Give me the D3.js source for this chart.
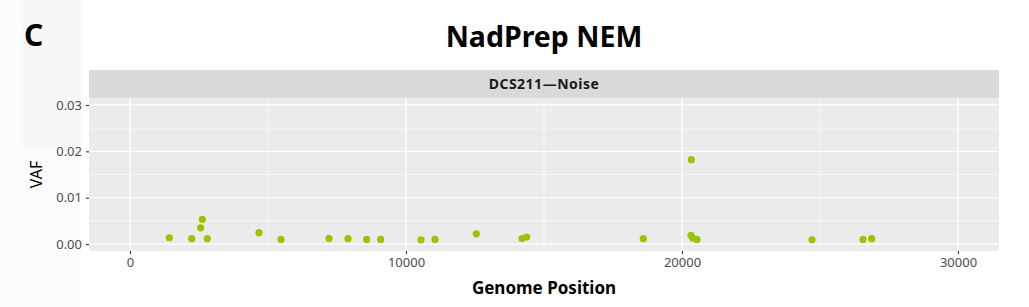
<!DOCTYPE html>
<html>
<head>
<meta charset="utf-8">
<script src="https://cdn.jsdelivr.net/npm/d3@7"></script>
<style>
  body { margin: 0; background: #fff; }
  svg { display: block; font-family: "Noto Sans", sans-serif; }
</style>
</head>
<body>
<div class="container"></div>
<script>
// genome position and VAF
const positions = [1425, 2235, 2620, 2560, 2800, 4674, 5471, 7210, 7899, 8575, 9082,
  10543, 11051, 12547, 14203, 14372, 18598, 20338, 20326, 20387, 20543, 24710, 26558, 26872];
const vafs = [0.00136, 0.00115, 0.0053, 0.0035, 0.00115, 0.00245, 0.001, 0.00122, 0.00115, 0.001, 0.001,
  0.00093, 0.001, 0.0022, 0.0012, 0.0015, 0.00115, 0.0182, 0.0019, 0.0013, 0.001, 0.00093, 0.001, 0.00115];
const xTicks = [0, 10000, 20000, 30000];
const xMinor = [5000, 15000, 25000];
const yTicks = [0, 0.01, 0.02, 0.03];
const yMinor = [0.005, 0.015, 0.025];

const width = 1029, height = 307;
const panel = { left: 89, right: 999, top: 98, bottom: 251 };

let svg = d3.select(".container")
  .append("svg")
  .attr("width", width)
  .attr("height", height);

// faint left band
svg.append("rect").attr("x", 0).attr("y", 0).attr("width", 81).attr("height", height).attr("fill", "#fbfbfb");
svg.append("rect").attr("x", 22).attr("y", 0).attr("width", 59).attr("height", 148).attr("fill", "#f8f8f8");

let x = d3.scaleLinear().domain([-1486, 31486]).range([panel.left, panel.right]);
let y = d3.scaleLinear().domain([-0.0015, 0.0315]).range([panel.bottom, panel.top]);

svg.append("rect")
  .attr("x", panel.left).attr("y", panel.top)
  .attr("width", panel.right - panel.left).attr("height", panel.bottom - panel.top)
  .attr("fill", "#ebebeb");

// strip
svg.append("rect")
  .attr("x", panel.left).attr("y", 70)
  .attr("width", panel.right - panel.left).attr("height", panel.top - 70)
  .attr("fill", "#d9d9d9");
svg.append("text")
  .attr("x", (panel.left + panel.right) / 2).attr("y", 89)
  .attr("text-anchor", "middle")
  .attr("font-size", 14).attr("font-weight", "bold").attr("fill", "#1a1a1a")
  .attr("letter-spacing", 0.5)
  .text("DCS211—Noise");

let grid = svg.append("g");
grid.selectAll(".xminor").data(xMinor).enter().append("line")
  .attr("x1", d => x(d)).attr("x2", d => x(d))
  .attr("y1", panel.top).attr("y2", panel.bottom)
  .attr("stroke", "#fff").attr("stroke-width", 0.6);
grid.selectAll(".yminor").data(yMinor).enter().append("line")
  .attr("y1", d => y(d)).attr("y2", d => y(d))
  .attr("x1", panel.left).attr("x2", panel.right)
  .attr("stroke", "#fff").attr("stroke-width", 0.6);
grid.selectAll(".xmajor").data(xTicks).enter().append("line")
  .attr("x1", d => x(d)).attr("x2", d => x(d))
  .attr("y1", panel.top).attr("y2", panel.bottom)
  .attr("stroke", "#fff").attr("stroke-width", 1.2);
grid.selectAll(".ymajor").data(yTicks).enter().append("line")
  .attr("y1", d => y(d)).attr("y2", d => y(d))
  .attr("x1", panel.left).attr("x2", panel.right)
  .attr("stroke", "#fff").attr("stroke-width", 1.2);

// axes
let xAxis = svg.append("g")
  .attr("transform", `translate(0,${panel.bottom})`)
  .call(d3.axisBottom(x).tickValues(xTicks).tickFormat(d3.format("d")).tickSize(3).tickPadding(4));
let yAxis = svg.append("g")
  .attr("transform", `translate(${panel.left},0)`)
  .call(d3.axisLeft(y).tickValues(yTicks).tickFormat(d3.format(".2f")).tickSize(3).tickPadding(4));
[xAxis, yAxis].forEach(a => {
  a.select(".domain").remove();
  a.selectAll(".tick line").attr("stroke", "#333").attr("stroke-width", 1.1);
  a.selectAll(".tick text").attr("fill", "#4d4d4d").attr("font-size", 13)
    .attr("font-family", "Noto Sans, sans-serif");
});

// points
svg.append("g").selectAll("circle")
  .data(positions.map((p, i) => ({ pos: p, vaf: vafs[i] })))
  .enter().append("circle")
  .attr("cx", d => x(d.pos))
  .attr("cy", d => y(d.vaf))
  .attr("r", 3.6)
  .attr("fill", "#9bc400");

// titles
svg.append("text")
  .attr("x", (panel.left + panel.right) / 2).attr("y", 47)
  .attr("text-anchor", "middle")
  .attr("font-size", 28.5).attr("font-weight", "bold").attr("fill", "#000")
  .text("NadPrep NEM");
svg.append("text")
  .attr("x", 24).attr("y", 46)
  .attr("font-size", 30).attr("font-weight", "bold").attr("fill", "#000")
  .text("C");
svg.append("text")
  .attr("x", (panel.left + panel.right) / 2).attr("y", 294)
  .attr("text-anchor", "middle")
  .attr("font-size", 17).attr("font-weight", "bold").attr("fill", "#000")
  .text("Genome Position");
svg.append("text")
  .attr("transform", `translate(42,${(panel.top + panel.bottom) / 2}) rotate(-90)`)
  .attr("text-anchor", "middle")
  .attr("font-size", 16).attr("fill", "#000")
  .text("VAF");
</script>
</body>
</html>
